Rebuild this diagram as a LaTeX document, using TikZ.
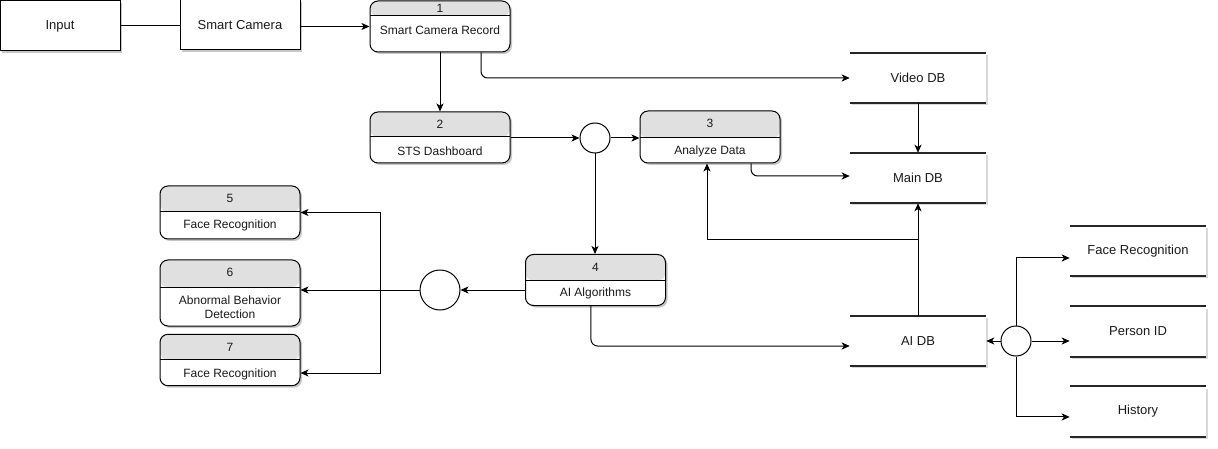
\documentclass[tikz,border=0pt]{standalone}
\usepackage{fontspec}
\setmainfont{Liberation Sans}
\usetikzlibrary{arrows.meta,shadows,calc}
\definecolor{hdrgray}{HTML}{E0E0E0}
\definecolor{txtcol}{HTML}{1A1A1A}
\tikzset{
  sh/.style={drop shadow={shadow xshift=1.5pt,shadow yshift=-1.5pt,opacity=0.22,fill=black}},
  outbox/.style={draw, line width=0.75pt, fill=white, minimum width=90pt, minimum height=37.5pt,
    inner sep=0pt, font=\fontsize{9.75}{11.7}\selectfont, text=txtcol, sh},
  procbox/.style={draw, rounded corners=6pt, fill=white, minimum width=105pt, line width=0.75pt,
    inner sep=0pt, sh,
    path picture={\fill[hdrgray] (path picture bounding box.north west) rectangle ([yshift=-#1]path picture bounding box.north east);
      \draw[line width=0.75pt] ([yshift=-#1]path picture bounding box.north west) -- ([yshift=-#1]path picture bounding box.north east);}},
  procbox/.default=19.5pt,
  ptxt/.style={inner sep=0pt, font=\fontsize{9}{10.5}\selectfont, text=txtcol, align=center},
  dbbox/.style={fill=white, minimum width=102pt, minimum height=37.5pt, inner sep=0pt,
    font=\fontsize{9.75}{11.7}\selectfont, text=txtcol,
    drop shadow={shadow xshift=1.5pt,shadow yshift=-1.5pt,opacity=0.15,fill=black}},
  dbline/.style={line width=1.2pt, black!85},
  junc/.style={circle, draw, fill=white, line width=0.75pt, inner sep=0pt},
  plain/.style={line width=0.75pt},
  arr/.style={line width=0.75pt, -{Stealth[length=6pt,width=5.25pt,inset=1.6pt]}},
}
\begin{document}
\begin{tikzpicture}[x=0.75pt,y=-0.75pt]
\useasboundingbox (0,0) rectangle (1218,449);

% outer boxes
\node[outbox] (in) at (60,26) {Input};
\node[outbox] (sc) at (240,25) {Smart Camera};

% process boxes
\node[procbox=11.25pt, minimum height=38.25pt] (b1) at (440,26.5) {};
\node[ptxt] (b1n) at (440,8) {1};
\node[ptxt] (b1t) at (440,30) {Smart Camera Record};

\node[procbox=18.75pt, minimum height=38.25pt] (b2) at (440,137.5) {};
\node[ptxt] (b2n) at (440,124) {2};
\node[ptxt] (b2t) at (440,151) {STS Dashboard};

\node[procbox=20.25pt, minimum height=39pt] (b3) at (710,137) {};
\node[ptxt] (b3n) at (710,123) {3};
\node[ptxt] (b3t) at (710,151) {Analyze Data};

\node[procbox=19.5pt, minimum height=38.25pt] (b4) at (595.5,280) {};
\node[ptxt] (b4n) at (595.5,267) {4};
\node[ptxt] (b4t) at (595.5,293) {AI Algorithms};

\node[procbox=19.5pt, minimum height=39.75pt] (b5) at (230,212.5) {};
\node[ptxt] (b5n) at (230,198) {5};
\node[ptxt] (b5t) at (230,225.5) {Face Recognition};

\node[procbox=20.25pt, minimum height=49.5pt] (b6) at (230,293) {};
\node[ptxt] (b6n) at (230,272) {6};
\node[ptxt] (b6t) at (230,307) {Abnormal Behavior\\Detection};

\node[procbox=19.125pt, minimum height=38.6pt] (b7) at (230,360) {};
\node[ptxt] (b7n) at (230,347) {7};
\node[ptxt] (b7t) at (230,374) {Face Recognition};

% data stores
\node[dbbox] (vdb) at (918,78) {Video DB};
\node[dbbox] (mdb) at (918,178) {Main DB};
\node[dbbox] (aidb) at (918,341) {AI DB};
\node[dbbox] (fr) at (1138,251) {Face Recognition};
\node[dbbox] (pid) at (1138,331.5) {Person ID};
\node[dbbox] (hist) at (1138,411.5) {History};
\foreach \n in {vdb,mdb,aidb,fr,pid,hist}{
  \draw[dbline] (\n.north west) -- (\n.north east);
  \draw[dbline] (\n.south west) -- (\n.south east);
}

% junction circles
\node[junc, minimum size=22.5pt] (c1) at (595,138) {};
\node[junc, minimum size=30pt] (c2) at (440,290) {};
\node[junc, minimum size=22.5pt] (c3) at (1016,341) {};

\coordinate (j1) at (918,240);
\coordinate (j2) at (380,290);

% connectors
\draw[plain] (in.east) -- (in.east -| sc.west);
\draw[arr] (sc.east |- b1.west) -- (b1.west);
\draw[arr] (b1.south) -- (b2.north);
\draw[arr, rounded corners=5pt] ([xshift=30.75pt]b1.south) |- (vdb.west);
\draw[arr] (b2.east |- c1.west) -- (c1.west);
\draw[arr] (c1.east) -- (c1.east -| b3.west);
\draw[arr] (c1.south) -- (c1.south |- b4.north);
\draw[arr, rounded corners=5pt] ([xshift=30.75pt]b3.south) |- ([yshift=1.5pt]mdb.west);
\draw[arr] (vdb.south) -- (mdb.north);
\draw[arr] (aidb.north) -- (mdb.south);
\draw[arr] (j1) -| ([xshift=-2.25pt]b3.south);
\draw[arr] (b4.west |- c2.east) -- (c2.east);
\draw[arr] (c2.west) -- (c2.west -| b6.east);
\draw[arr] (j2) |- (b5.east);
\draw[arr] (j2) |- ([yshift=-9.75pt]b7.east);
\draw[arr, rounded corners=5pt] ([xshift=-3.4pt]b4.south) |- ([yshift=-3.75pt]aidb.west);
\draw[arr] (c3.west) -- (aidb.east);
\draw[arr] (c3.north) |- ([yshift=-5.25pt]fr.west);
\draw[arr] (c3.east) -- (c3.east -| pid.west);
\draw[arr] (c3.south) |- ([yshift=-4.1pt]hist.west);
\end{tikzpicture}
\end{document}
